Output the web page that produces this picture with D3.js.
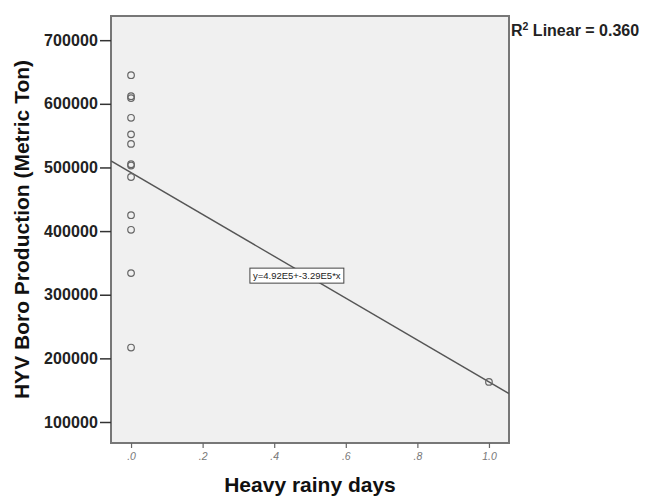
<!DOCTYPE html>
<html>
<head>
<meta charset="utf-8">
<script src="https://cdn.jsdelivr.net/npm/d3@7"></script>
<style>
  body { margin: 0; background: #fff; }
  svg { display: block; font-family: "Liberation Sans", Arial, sans-serif; }
</style>
</head>
<body>
<svg width="648" height="496"></svg>
<script>
// data
const rainyDays = [0, 0, 0, 0, 0, 0, 0, 0, 0, 0, 0, 0, 0, 1];
const production = [645000, 612000, 609000, 578000, 552000, 537000, 505000, 503000,
                    485000, 425000, 402000, 334000, 217000, 163000];
const yTicks = [100000, 200000, 300000, 400000, 500000, 600000, 700000];
const xTicks = [0, 0.2, 0.4, 0.6, 0.8, 1.0];
const intercept = 4.92e5;
const slope = -3.29e5;
const fitLabel = "y=4.92E5+-3.29E5*x";

// layout
const plotL = 111, plotR = 509, plotT = 16, plotB = 443;

const svg = d3.select("svg");

const x = d3.scaleLinear().domain([-0.056, 1.056]).range([plotL, plotR]);
const y = d3.scaleLinear().domain([67000, 738000]).range([plotB, plotT]);

// plot area
svg.append("rect")
    .attr("x", plotL).attr("y", plotT)
    .attr("width", plotR - plotL).attr("height", plotB - plotT)
    .attr("fill", "#f0f0f0")
    .attr("stroke", "#777")
    .attr("stroke-width", 2);

svg.append("defs").append("clipPath").attr("id", "clip")
  .append("rect")
    .attr("x", plotL).attr("y", plotT)
    .attr("width", plotR - plotL).attr("height", plotB - plotT);

// y axis
const gY = svg.append("g")
    .attr("transform", "translate(" + plotL + ",0)")
    .call(d3.axisLeft(y).tickValues(yTicks).tickSize(11).tickSizeOuter(0).tickPadding(2)
        .tickFormat(d3.format("d")));
gY.select(".domain").remove();
gY.selectAll("line").attr("stroke", "#333").attr("stroke-width", 1.5);
gY.selectAll("text")
    .style("font-size", "16px")
    .style("font-weight", "bold")
    .style("letter-spacing", "0.1px")
    .attr("fill", "#222");

// x axis
const gX = svg.append("g")
    .attr("transform", "translate(0," + plotB + ")")
    .call(d3.axisBottom(x).tickValues(xTicks).tickSize(5).tickSizeOuter(0).tickPadding(5)
        .tickFormat(d => d === 1 ? "1.0" : d3.format(".1f")(d).replace(/^0/, "")));
gX.select(".domain").remove();
gX.selectAll("line").attr("stroke", "#666").attr("stroke-width", 1.2);
gX.selectAll("text")
    .style("font-size", "10.5px")
    .style("font-style", "italic")
    .attr("fill", "#777");

// fit line
const xd = x.domain();
svg.append("line")
    .attr("clip-path", "url(#clip)")
    .attr("x1", x(xd[0])).attr("y1", y(intercept + slope * xd[0]))
    .attr("x2", x(xd[1])).attr("y2", y(intercept + slope * xd[1]))
    .attr("stroke", "#555")
    .attr("stroke-width", 1.4);

// points
svg.append("g").selectAll("circle")
    .data(rainyDays.map((d, i) => ({x: d, y: production[i]})))
    .enter().append("circle")
    .attr("cx", d => x(d.x))
    .attr("cy", d => y(d.y))
    .attr("r", 3.3)
    .attr("fill", "none")
    .attr("stroke", "#666")
    .attr("stroke-width", 1.2);

// equation label
const lx = x(0.463), ly = y(330000);
const lbl = svg.append("g");
const lt = lbl.append("text")
    .attr("x", lx).attr("y", ly + 3.5)
    .attr("text-anchor", "middle")
    .style("font-size", "9.5px")
    .attr("fill", "#222")
    .text(fitLabel);
const bb = lt.node().getBBox();
lbl.insert("rect", "text")
    .attr("x", bb.x - 3).attr("y", bb.y - 2)
    .attr("width", bb.width + 6).attr("height", bb.height + 4)
    .attr("fill", "#fff")
    .attr("stroke", "#444")
    .attr("stroke-width", 1);

// R squared
const r2 = svg.append("text")
    .attr("x", plotR + 2).attr("y", 36)
    .style("font-size", "16px")
    .style("font-weight", "bold")
    .attr("fill", "#222");
r2.append("tspan").text("R");
r2.append("tspan").attr("dy", -6).style("font-size", "10.5px").text("2");
r2.append("tspan").attr("dy", 6).text(" Linear = 0.360");

// axis titles
svg.append("text")
    .attr("x", 310).attr("y", 492)
    .attr("text-anchor", "middle")
    .style("font-size", "21px")
    .style("font-weight", "bold")
    .attr("fill", "#111")
    .text("Heavy rainy days");

svg.append("text")
    .attr("transform", "translate(29," + ((plotT + plotB) / 2) + ") rotate(-90)")
    .attr("text-anchor", "middle")
    .style("font-size", "21px")
    .style("font-weight", "bold")
    .attr("fill", "#111")
    .text("HYV Boro Production (Metric Ton)");
</script>
</body>
</html>
